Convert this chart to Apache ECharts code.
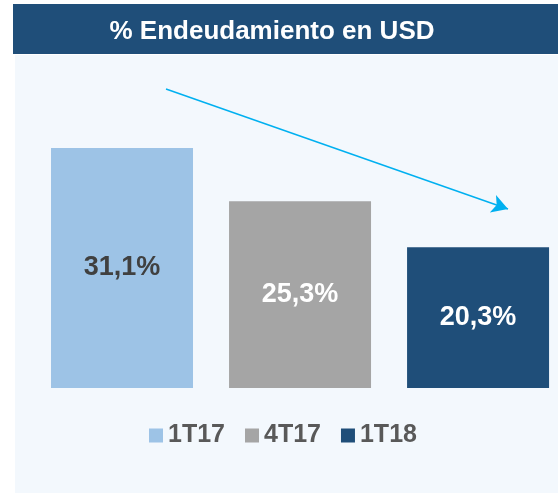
<!DOCTYPE html>
<html>
<head>
<meta charset="utf-8" />
<title>Endeudamiento USD</title>
<script src="https://cdn.jsdelivr.net/npm/echarts@6/dist/echarts.min.js"></script>
<style>
  html, body { margin: 0; padding: 0; background: #ffffff; }
  #main { width: 558px; height: 493px; }
</style>
</head>
<body>
<div id="main"></div>
<script>
var periodos = ['1T17', '4T17', '1T18'];
var valores = [31.1, 25.3, 20.3];
var colores = ['#9dc3e6', '#a5a5a5', '#1f4e79'];
var colorEtiqueta = ['#404040', '#ffffff', '#ffffff'];

var chart = echarts.init(document.getElementById('main'));
var fuente = "'Liberation Sans', Arial, sans-serif";

// una serie por periodo para que la leyenda muestre los tres
var series = periodos.map(function (p, i) {
  return {
    name: p,
    type: 'bar',
    stack: 'total',
    barWidth: 142,
    data: [[i, valores[i]]],
    itemStyle: { color: colores[i] },
    label: {
      show: true,
      position: 'inside',
      color: colorEtiqueta[i],
      fontFamily: fuente,
      fontWeight: 'bold',
      fontSize: 27,
      formatter: function (d) { return d.value[1].toFixed(1).replace('.', ',') + '%'; }
    },
    silent: true
  };
});

// flecha de tendencia
series[0].markLine = {
  silent: true,
  symbol: ['none', 'arrow'],
  symbolSize: [14, 16],
  label: { show: false },
  lineStyle: { color: '#00b0f0', width: 1.5, type: 'solid' },
  data: [[{ x: 166, y: 89 }, { x: 508, y: 209 }]]
};

var option = {
  animation: false,
  textStyle: { fontFamily: fuente },
  graphic: [
    { type: 'rect', z: -10, shape: { x: 15, y: 55, width: 543, height: 438 }, style: { fill: '#f3f8fd' } },
    { type: 'rect', z: -10, shape: { x: 13, y: 4, width: 545, height: 50 }, style: { fill: '#1f4e79' } }
  ],
  title: {
    text: '% Endeudamiento en USD',
    left: 272,
    textAlign: 'center',
    top: 19,
    padding: 0,
    textStyle: { color: '#ffffff', fontSize: 26, fontWeight: 'bold', fontFamily: fuente }
  },
  legend: {
    data: periodos,
    left: 149,
    top: 423,
    padding: 0,
    itemWidth: 14,
    itemHeight: 14,
    itemGap: 20,
    icon: 'rect',
    textStyle: { color: '#595959', fontSize: 25, fontWeight: 'bold', fontFamily: fuente },
    selectedMode: false
  },
  grid: { left: 33, right: 0, top: 112, height: 276 },
  xAxis: {
    type: 'value',
    min: -0.5,
    max: 2.449,
    show: false
  },
  yAxis: {
    type: 'value',
    min: 5,
    max: 35,
    show: false
  },
  series: series
};

chart.setOption(option);
</script>
</body>
</html>
